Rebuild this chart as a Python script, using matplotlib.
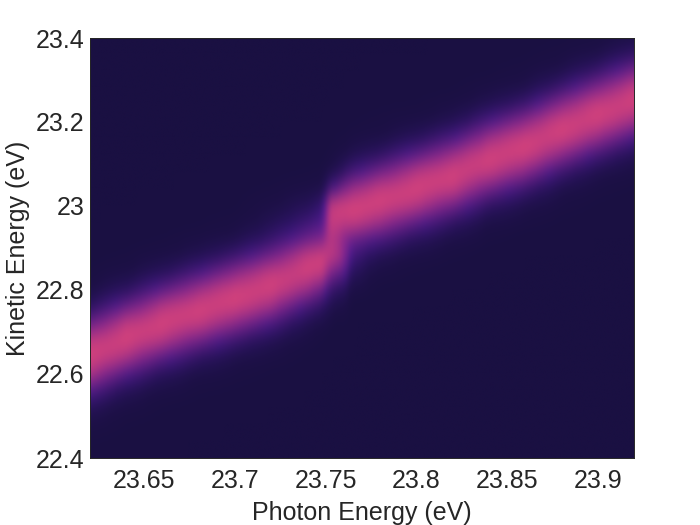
import numpy as np
import matplotlib
matplotlib.use("Agg")
import matplotlib.pyplot as plt
from matplotlib.colors import LinearSegmentedColormap

plt.rcParams["font.family"] = ["Liberation Sans", "DejaVu Sans"]

# photon energy of each column, kinetic energy of each row
photon = [23.62, 23.64, 23.66, 23.68, 23.70, 23.72, 23.74, 23.748, 23.752, 23.756, 23.76,
          23.765, 23.78, 23.80, 23.82, 23.84, 23.86, 23.88, 23.90, 23.92]
kinetic = [22.40, 22.44, 22.48, 22.52, 22.56, 22.60, 22.64, 22.68, 22.72,
           22.76, 22.80, 22.84, 22.88, 22.92, 22.96, 23.00, 23.04, 23.08,
           23.12, 23.16, 23.20, 23.24, 23.28, 23.32, 23.36, 23.40]

# intensity (percent of peak), one list per photon energy, bottom row first
col_00 = [1, 3, 10, 25, 53, 84, 100, 90, 62, 31, 12, 4, 1, 0, 0, 0, 0, 0, 0, 0, 0, 0, 0, 0, 0, 0]
col_01 = [0, 1, 3, 9, 25, 53, 84, 100, 90, 61, 31, 12, 4, 1, 0, 0, 0, 0, 0, 0, 0, 0, 0, 0, 0, 0]
col_02 = [0, 0, 1, 3, 10, 28, 57, 87, 100, 87, 57, 28, 10, 3, 1, 0, 0, 0, 0, 0, 0, 0, 0, 0, 0, 0]
col_03 = [0, 0, 0, 1, 4, 13, 34, 65, 92, 99, 80, 49, 22, 8, 2, 1, 0, 0, 0, 0, 0, 0, 0, 0, 0, 0]
col_04 = [0, 0, 0, 0, 2, 6, 17, 41, 74, 97, 97, 74, 41, 17, 6, 2, 1, 0, 0, 0, 0, 0, 0, 0, 0, 0]
col_05 = [0, 0, 0, 0, 0, 2, 8, 22, 49, 80, 99, 92, 65, 38, 22, 12, 4, 1, 0, 0, 0, 0, 0, 0, 0, 0]
col_06 = [0, 0, 0, 0, 0, 0, 2, 7, 20, 45, 78, 98, 92, 62, 42, 25, 10, 3, 1, 0, 0, 0, 0, 0, 0, 0]
col_07 = [0, 0, 0, 0, 0, 0, 0, 3, 12, 33, 62, 92, 98, 70, 52, 40, 16, 5, 1, 0, 0, 0, 0, 0, 0, 0]
col_08 = [0, 0, 0, 0, 0, 0, 0, 0, 6, 20, 42, 72, 90, 85, 90, 88, 45, 15, 5, 1, 0, 0, 0, 0, 0, 0]
col_09 = [0, 0, 0, 0, 0, 0, 0, 0, 0, 15, 33, 62, 86, 82, 92, 96, 55, 22, 8, 3, 1, 0, 0, 0, 0, 0]
col_10 = [0, 0, 0, 0, 0, 0, 0, 0, 3, 12, 28, 55, 75, 72, 90, 98, 68, 35, 14, 4, 1, 0, 0, 0, 0, 0]
col_11 = [0, 0, 0, 0, 0, 0, 0, 0, 0, 0, 10, 28, 45, 62, 92, 100, 78, 45, 20, 7, 2, 1, 0, 0, 0, 0]
col_12 = [0, 0, 0, 0, 0, 0, 0, 0, 0, 0, 2, 8, 22, 49, 80, 99, 92, 65, 34, 13, 5, 2, 1, 0, 0, 0]
col_13 = [0, 0, 0, 0, 0, 0, 0, 0, 0, 0, 0, 3, 10, 28, 57, 87, 100, 87, 57, 28, 10, 3, 1, 0, 0, 0]
col_14 = [0, 0, 0, 0, 0, 0, 0, 0, 0, 0, 0, 0, 4, 13, 34, 65, 92, 99, 80, 49, 22, 8, 2, 1, 0, 0]
col_15 = [0, 0, 0, 0, 0, 0, 0, 0, 0, 0, 0, 0, 0, 4, 13, 34, 65, 92, 99, 80, 49, 22, 8, 2, 1, 0]
col_16 = [0, 0, 0, 0, 0, 0, 0, 0, 0, 0, 0, 0, 0, 0, 6, 17, 41, 74, 97, 97, 74, 41, 17, 6, 2, 1]
col_17 = [0, 0, 0, 0, 0, 0, 0, 0, 0, 0, 0, 0, 0, 0, 2, 6, 17, 41, 74, 97, 97, 74, 41, 17, 6, 2]
col_18 = [0, 0, 0, 0, 0, 0, 0, 0, 0, 0, 0, 0, 0, 0, 0, 2, 6, 18, 44, 77, 98, 95, 70, 38, 15, 5]
col_19 = [0, 0, 0, 0, 0, 0, 0, 0, 0, 0, 0, 0, 0, 0, 0, 0, 2, 8, 22, 49, 80, 99, 92, 65, 34, 13]

columns = [col_00, col_01, col_02, col_03, col_04, col_05, col_06, col_07, col_08, col_09,
           col_10, col_11, col_12, col_13, col_14, col_15, col_16, col_17, col_18, col_19]

x_ticks = [23.65, 23.7, 23.75, 23.8, 23.85, 23.9]
x_labels = ["23.65", "23.7", "23.75", "23.8", "23.85", "23.9"]
y_ticks = [22.4, 22.6, 22.8, 23, 23.2, 23.4]
y_labels = ["22.4", "22.6", "22.8", "23", "23.2", "23.4"]

cmap = LinearSegmentedColormap.from_list(
    "band",
    [(0.0, "#1a1042"), (0.15, "#1e1148"), (0.32, "#2b1362"), (0.52, "#4d1b8c"),
     (0.72, "#85278e"), (0.9, "#c23b80"), (1.0, "#d8447a")],
)

# put the unevenly spaced columns on an even grid so the step at 23.75 stays sharp
intensity = np.array(columns, dtype=float).T
x_even = np.arange(photon[0], photon[-1] + 0.0005, 0.001)
even = np.array([np.interp(x_even, photon, row) for row in intensity])
kernel = np.ones(5) / 5
padded = np.pad(even, ((0, 0), (2, 2)), mode="edge")
even = np.array([np.convolve(row, kernel, mode="valid") for row in padded])

dx = x_even[1] - x_even[0]
dy = kinetic[1] - kinetic[0]

fig = plt.figure(figsize=(7, 5.25), dpi=100)
ax = fig.add_axes([90 / 700, 1 - 458 / 525, 544 / 700, 420 / 525])
ax.imshow(
    even,
    origin="lower",
    aspect="auto",
    cmap=cmap,
    vmin=0,
    vmax=100,
    interpolation="bicubic",
    extent=[x_even[0] - dx / 2, x_even[-1] + dx / 2,
            kinetic[0] - dy / 2, kinetic[-1] + dy / 2],
)
ax.set_xlim(23.62, 23.92)
ax.set_ylim(22.4, 23.4)
ax.set_xticks(x_ticks, x_labels)
ax.set_yticks(y_ticks, y_labels)
ax.tick_params(axis="both", labelsize=18, length=0, labelcolor="#262626")
ax.tick_params(axis="x", pad=8)
ax.tick_params(axis="y", pad=4)
ax.set_xlabel("Photon Energy (eV)", fontsize=18, color="#262626", labelpad=6)
ax.set_ylabel("Kinetic Energy (eV)", fontsize=18, color="#262626", labelpad=4)
for spine in ax.spines.values():
    spine.set_color("#262626")
    spine.set_linewidth(0.7)

fig.savefig("out.png", dpi=100)
